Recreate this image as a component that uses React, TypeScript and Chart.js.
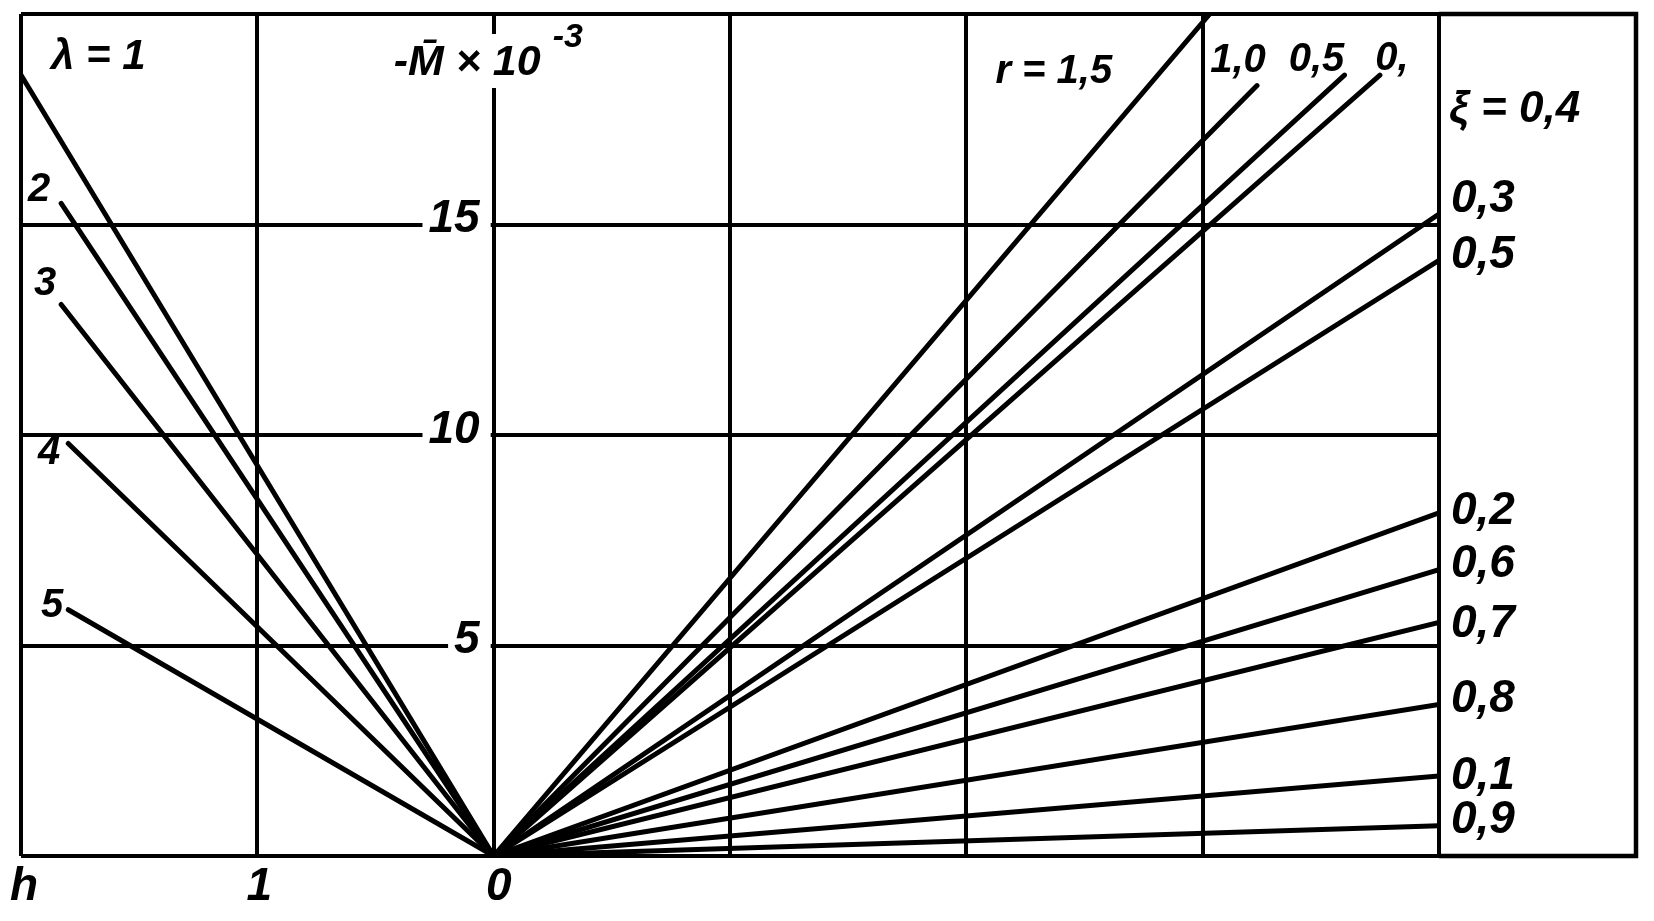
import React, { useEffect, useRef } from 'react';
import { Chart, registerables } from 'chart.js';

Chart.register(...registerables);

const W = 1654;
const H = 921;

// ---- grid / axis ----
const xTicks = [-2, -1, 0, 1, 2, 3, 4];
const xTickLabels = ['h', '1', '0', '', '', '', ''];
const yTicks = [0, 5, 10, 15, 20];
const yTickLabels = ['', '5', '10', '15', ''];

// ---- left family: λ = 1..5 (lines from origin) ----
const lambdaValues = ['1', '2', '3', '4', '5'];
const lambdaEndX = [-2, -1.83, -1.83, -1.8, -1.8];
const lambdaEndY = [18.55, 15.5, 13.1, 9.8, 5.85];

// ---- right family: ξ values, ending at right border ----
const xiValues = ['0,3', '0,5', '0,2', '0,6', '0,7', '0,8', '0,1', '0,9'];
const xiEndX = [4, 4, 4, 4, 4, 4, 4, 4];
const xiEndY = [15.25, 14.15, 8.15, 6.8, 5.55, 3.6, 1.9, 0.72];

// ---- ξ = 0,4 family with r values ----
const rValues = ['1,5', '1,0', '0,5', '0,'];
const rEndX = [3.03, 3.23, 3.6, 3.75];
const rEndY = [20, 18.3, 18.55, 18.55];

const FONT = '"Liberation Sans", "DejaVu Sans", Arial, sans-serif';
const INK = '#000000';

const lambdaLabelDX = [30, 18, 24, 28, 31];
const lambdaLabelDY = [-18, -13, -21, 10, -4];
const xiLabelDY = [-15, -5, -2, -5, 2, -5, 0, -5];
const rLabelDX = [-156, -19, -28, 12];
const rLabelDY = [58, -25, -15, -16];

const textPlugin = {
  id: 'nomogramText',
  afterDraw(chart: any) {
    const { ctx, chartArea: a } = chart;
    const xs = chart.scales.x;
    const ys = chart.scales.y;
    const px = (v: number) => xs.getPixelForValue(v);
    const py = (v: number) => ys.getPixelForValue(v);
    const font = (s: number) => `italic bold ${s}px ${FONT}`;
    const put = (t: string, x: number, y: number, size: number, align: CanvasTextAlign = 'center') => {
      ctx.font = font(size);
      ctx.textAlign = align;
      ctx.textBaseline = 'middle';
      ctx.fillStyle = INK;
      ctx.fillText(t, x, y);
    };
    ctx.save();

    // outer frame for label column
    const outer = a.right + 197;
    ctx.strokeStyle = INK;
    ctx.lineWidth = 4.5;
    ctx.beginPath();
    ctx.moveTo(a.right, a.top);
    ctx.lineTo(outer, a.top);
    ctx.lineTo(outer, a.bottom);
    ctx.lineTo(a.right, a.bottom);
    ctx.stroke();

    const x0 = px(0);

    // axis title with gap in the axis
    ctx.fillStyle = '#ffffff';
    ctx.fillRect(x0 - 10, a.top + 20, 20, 54);
    const titleMain = '-M\u0304 \u00d7 10';
    put(titleMain, x0 - 100, a.top + 49, 43, 'left');
    ctx.font = font(43);
    const tw = ctx.measureText(titleMain).width;
    put('-3', x0 - 100 + tw + 12, a.top + 24, 34, 'left');

    // y tick labels with white backdrop over grid line
    yTicks.forEach((v, i) => {
      const t = yTickLabels[i];
      if (!t) return;
      ctx.font = font(46);
      const w = ctx.measureText(t).width;
      const yy = py(v);
      ctx.fillStyle = '#ffffff';
      ctx.fillRect(x0 - 14 - w - 6, yy - 7, w + 6 + 11, 14);
      put(t, x0 - 14, yy - 5, 46, 'right');
    });

    // x tick labels under the frame
    const xdx = [3, 2, 5, 0, 0, 0, 0];
    xTicks.forEach((v, i) => {
      const t = xTickLabels[i];
      if (!t) return;
      put(t, px(v) + xdx[i], a.bottom + 31, 46, 'center');
    });

    // λ labels
    lambdaValues.forEach((t, i) => {
      const yy = py(lambdaEndY[i]) + lambdaLabelDY[i];
      if (i === 0) put('\u03bb = ' + t, a.left + lambdaLabelDX[i], yy, 42, 'left');
      else put(t, a.left + lambdaLabelDX[i], yy, 40, 'center');
    });

    // ξ labels
    xiValues.forEach((t, i) => {
      put(t, px(xiEndX[i]) + 12, py(xiEndY[i]) + xiLabelDY[i], 46, 'left');
    });
    put('\u03be = 0,4', a.right + 10, a.top + 96, 44, 'left');

    // r labels
    rValues.forEach((t, i) => {
      const txt = i === 0 ? 'r = ' + t : t;
      put(txt, px(rEndX[i]) + rLabelDX[i], py(rEndY[i]) + rLabelDY[i], 40, 'center');
    });

    ctx.restore();
  },
};

function lineSet(label: string, ex: number, ey: number) {
  return {
    label,
    data: [
      { x: 0, y: 0 },
      { x: ex, y: ey },
    ],
    showLine: true,
    borderColor: INK,
    backgroundColor: INK,
    borderWidth: 5,
    borderCapStyle: 'round',
    pointRadius: 0,
    fill: false,
    tension: 0,
  };
}

export default function App() {
  const ref = useRef<HTMLCanvasElement>(null);

  useEffect(() => {
    const canvas = ref.current;
    if (!canvas) return;
    const datasets = [
      ...lambdaValues.map((v, i) => lineSet('λ=' + v, lambdaEndX[i], lambdaEndY[i])),
      ...xiValues.map((v, i) => lineSet('ξ=' + v, xiEndX[i], xiEndY[i])),
      ...rValues.map((v, i) => lineSet('r=' + v, rEndX[i], rEndY[i])),
    ];
    const gridStyle = { color: INK, lineWidth: 4, drawTicks: false };
    const chart = new Chart(canvas, {
      type: 'scatter',
      data: { datasets } as any,
      options: {
        responsive: false,
        animation: false,
        devicePixelRatio: 1,
        layout: { padding: { left: 21, top: 14, right: W - 1439, bottom: H - 856 } },
        plugins: { legend: { display: false }, tooltip: { enabled: false } },
        scales: {
          x: {
            type: 'linear',
            min: xTicks[0],
            max: xTicks[xTicks.length - 1],
            afterBuildTicks: (s: any) => { s.ticks = xTicks.map((v) => ({ value: v })); },
            ticks: { display: false },
            grid: gridStyle,
            border: { display: false },
          },
          y: {
            type: 'linear',
            min: yTicks[0],
            max: yTicks[yTicks.length - 1],
            afterBuildTicks: (s: any) => { s.ticks = yTicks.map((v) => ({ value: v })); },
            ticks: { display: false },
            grid: gridStyle,
            border: { display: false },
          },
        },
      } as any,
      plugins: [textPlugin],
    });
    return () => chart.destroy();
  }, []);

  return (
    <div style={{ position: 'fixed', left: 0, top: 0, width: W, height: H, background: '#ffffff' }}>
      <canvas ref={ref} width={W} height={H} style={{ display: 'block', width: W, height: H }} />
    </div>
  );
}
